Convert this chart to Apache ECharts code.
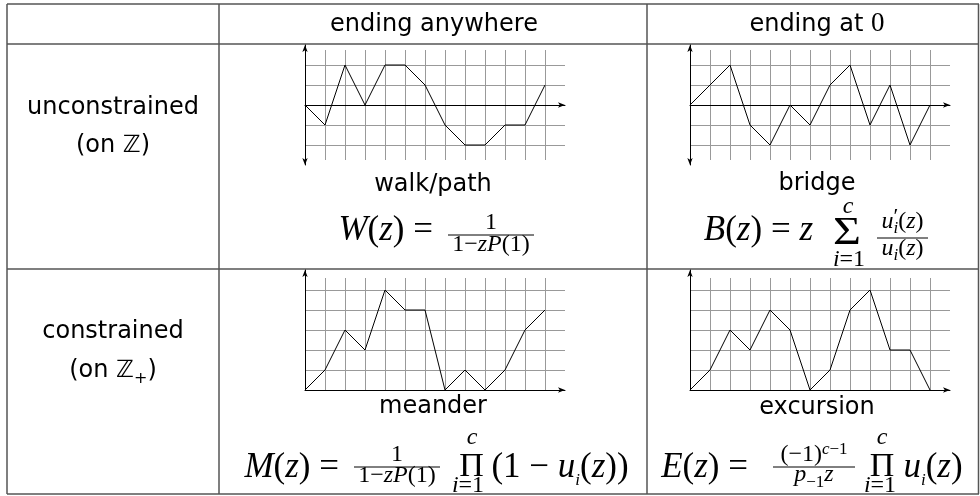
<!DOCTYPE html>
<html>
<head>
<meta charset="utf-8">
<script src="https://cdn.jsdelivr.net/npm/echarts@6/dist/echarts.min.js"></script>
<style>
html, body { margin: 0; background: #fff; }
#chart { width: 980px; height: 496px; }
</style>
</head>
<body>
<div id="chart"></div>
<script>
// heights of the four sample paths, one value per step 0..12
const walkSteps = [0, -1, 2, 0, 2, 2, 1, -1, -2, -2, -1, -1, 1];
const bridgeSteps = [0, 1, 2, -1, -2, 0, -1, 1, 2, -1, 1, -2, 0];
const meanderSteps = [0, 1, 3, 2, 5, 4, 4, 0, 1, 0, 1, 3, 4];
const excursionSteps = [0, 1, 3, 2, 4, 3, 0, 1, 4, 5, 2, 2, 0];

const columnTitles = ['ending anywhere', 'ending at '];
const rowTitles = ['unconstrained', 'constrained'];
const pathNames = ['walk/path', 'bridge', 'meander', 'excursion'];

const SANS = '"DejaVu Sans"';
const SERIF = '"Liberation Serif"';
const CELL = 20;
const M = 35, S = 24, SS = 17;

const panels = [
    { values: walkSteps, left: 305, zeroY: 105, signed: true },
    { values: bridgeSteps, left: 690, zeroY: 105, signed: true },
    { values: meanderSteps, left: 305, zeroY: 390, signed: false },
    { values: excursionSteps, left: 690, zeroY: 390, signed: false }
];

const grids = [], xAxes = [], yAxes = [], series = [];
panels.forEach((p, k) => {
    // grid for the vertical lines, a bit shorter than the axis
    grids.push({
        left: p.left, width: 13 * CELL,
        top: p.signed ? p.zeroY - 2.75 * CELL : p.zeroY - 5.6 * CELL,
        height: p.signed ? 5.5 * CELL : 5.6 * CELL
    });
    // grid holding the path and the axes
    grids.push({
        left: p.left, width: 13 * CELL,
        top: p.zeroY - (p.signed ? 3 : 6) * CELL,
        height: 6 * CELL
    });
    xAxes.push({
        gridIndex: 2 * k, type: 'value', min: 0, max: 13, interval: 1,
        axisLine: { show: false }, axisTick: { show: false }, axisLabel: { show: false },
        splitLine: { show: true, showMinLine: false, showMaxLine: false, lineStyle: { color: '#999', width: 1 } }
    });
    yAxes.push({
        gridIndex: 2 * k, type: 'value', show: false,
        min: p.signed ? -2.75 : 0, max: p.signed ? 2.75 : 5.6
    });
    xAxes.push({
        gridIndex: 2 * k + 1, type: 'value', min: 0, max: 13,
        axisLine: { show: true, onZero: true, symbol: ['none', 'arrow'], symbolSize: [4, 7], lineStyle: { color: '#000', width: 1 } },
        axisTick: { show: false }, axisLabel: { show: false }, splitLine: { show: false }
    });
    yAxes.push({
        gridIndex: 2 * k + 1, type: 'value',
        min: p.signed ? -3 : 0, max: p.signed ? 3 : 6, interval: 1,
        axisLine: { show: true, onZero: false, symbol: p.signed ? ['arrow', 'arrow'] : ['none', 'arrow'], symbolSize: [4, 7], lineStyle: { color: '#000', width: 1 } },
        axisTick: { show: false }, axisLabel: { show: false },
        splitLine: { show: true, showMinLine: false, showMaxLine: false, lineStyle: { color: '#999', width: 1 } }
    });
    series.push({
        type: 'line', xAxisIndex: 2 * k + 1, yAxisIndex: 2 * k + 1,
        data: p.values.map((v, i) => [i, v]),
        symbol: 'none', silent: true, z: 5,
        lineStyle: { color: '#000', width: 1 }
    });
});

// text layout helpers
const measure = document.createElement('canvas').getContext('2d');
function fontOf(p) {
    return (p.it ? 'italic ' : '') + p.s + 'px ' + (p.f || SERIF);
}
function widthOf(p) {
    measure.font = fontOf(p);
    return measure.measureText(p.t).width;
}
function run(pieces, x, base, align) {
    let total = 0;
    pieces.forEach(p => { if (!p.stay) total += widthOf(p); });
    let cx = x;
    if (align === 'center') cx = x - total / 2;
    if (align === 'right') cx = x - total;
    return pieces.map(p => {
        const el = {
            type: 'text', x: cx, y: base + (p.dy || 0) - 0.34 * p.s, silent: true,
            style: {
                text: p.t, font: fontOf(p), fill: '#000',
                align: 'left', textAlign: 'left', verticalAlign: 'middle', textVerticalAlign: 'middle'
            }
        };
        if (!p.stay) cx += widthOf(p);
        return el;
    });
}
function bar(x1, x2, y) {
    return { type: 'line', silent: true, shape: { x1: x1, y1: y, x2: x2, y2: y }, style: { stroke: '#000', lineWidth: 1 } };
}
const sans = (t, s, extra) => Object.assign({ t: t, s: s || 24, f: SANS }, extra);
const r = (t, s, extra) => Object.assign({ t: t, s: s || M }, extra);
const it = (t, s, extra) => Object.assign({ t: t, s: s || M, it: true }, extra);

const elements = [];
const tableLines = [
    [7, 4, 979, 4], [7, 44, 979, 44], [7, 269, 979, 269], [7, 494, 979, 494],
    [7, 4, 7, 494], [219, 4, 219, 494], [647, 4, 647, 494], [978.5, 4, 978.5, 494]
];
tableLines.forEach(l => elements.push({
    type: 'line', silent: true,
    shape: { x1: l[0], y1: l[1], x2: l[2], y2: l[3] },
    style: { stroke: '#555', lineWidth: 1.5 }
}));

// header and row titles
elements.push(...run([sans(columnTitles[0])], 434, 33, 'center'));
elements.push(...run([sans(columnTitles[1]), r('0', 27)], 817, 33, 'center'));
elements.push(...run([sans(rowTitles[0])], 113, 116, 'center'));
elements.push(...run([sans('(on '), sans('ℤ'), sans(')')], 113, 154, 'center'));
elements.push(...run([sans(rowTitles[1])], 113, 340, 'center'));
elements.push(...run([sans('(on '), sans('ℤ'), sans('+', 16, { dy: 5 }), sans(')')], 113, 379, 'center'));

// path names
elements.push(...run([sans(pathNames[0])], 433, 193, 'center'));
elements.push(...run([sans(pathNames[1])], 817, 192, 'center'));
elements.push(...run([sans(pathNames[2])], 433, 415, 'center'));
elements.push(...run([sans(pathNames[3])], 817, 416, 'center'));

// W(z)
elements.push(...run([it('W'), r('('), it('z'), r(')'), r(' =')], 433, 243, 'right'));
elements.push(bar(448, 534, 235));
elements.push(...run([r('1', S)], 491, 231, 'center'));
elements.push(...run([r('1−', S), it('z', S), it('P', S), r('(1)', S)], 491, 253, 'center'));

// B(z)
elements.push(...run([it('B'), r('('), it('z'), r(')'), r(' = '), it('z')], 813, 243, 'right'));
elements.push({
    type: 'text', x: 847, y: 247 - 0.34 * 40, scaleX: 1.2, originX: 0, originY: 0, silent: true,
    style: { text: 'Σ', font: '40px ' + SERIF, fill: '#000', align: 'center', textAlign: 'center', verticalAlign: 'middle', textVerticalAlign: 'middle' }
});
elements.push(...run([it('c', S)], 848, 215, 'center'));
elements.push(...run([it('i', S), r('=1', S)], 849, 268, 'center'));
elements.push(bar(877, 928, 238));
elements.push(...run([it('u', S), r('′', 22, { dy: -5, stay: true }), it('i', SS, { dy: 4 }), r('(', S), it('z', S), r(')', S)], 902.5, 230, 'center'));
elements.push(...run([it('u', S), it('i', SS, { dy: 4 }), r('(', S), it('z', S), r(')', S)], 902.5, 257, 'center'));

// M(z)
elements.push(...run([it('M'), r('('), it('z'), r(')'), r(' =')], 339, 480, 'right'));
elements.push(bar(354, 440, 467));
elements.push(...run([r('1', S)], 397, 463, 'center'));
elements.push(...run([r('1−', S), it('z', S), it('P', S), r('(1)', S)], 397, 484, 'center'));
elements.push(...run([r('Π', 34)], 471.5, 479, 'center'));
elements.push(...run([it('c', S)], 472, 446, 'center'));
elements.push(...run([it('i', S), r('=1', S)], 468, 494, 'center'));
elements.push(...run([r('(1 − '), it('u'), it('i', SS, { dy: 6 }), r('('), it('z'), r('))')], 560, 480, 'center'));

// E(z)
elements.push(...run([it('E'), r('('), it('z'), r(')'), r(' =')], 748, 480, 'right'));
elements.push(bar(773, 855, 467));
elements.push(...run([r('(−1)', S), it('c', SS, { dy: -8 }), r('−1', SS, { dy: -8 })], 814, 463, 'center'));
elements.push(...run([it('p', S), r('−1', SS, { dy: 5 }), it('z', S)], 814, 483, 'center'));
elements.push(...run([r('Π', 34)], 882, 479, 'center'));
elements.push(...run([it('c', S)], 882, 446, 'center'));
elements.push(...run([it('i', S), r('=1', S)], 880, 494, 'center'));
elements.push(...run([it('u'), it('i', SS, { dy: 6 }), r('('), it('z'), r(')')], 933, 480, 'center'));

const chart = echarts.init(document.getElementById('chart'));
chart.setOption({
    animation: false,
    grid: grids,
    xAxis: xAxes,
    yAxis: yAxes,
    series: series,
    graphic: { elements: elements }
});
</script>
</body>
</html>
